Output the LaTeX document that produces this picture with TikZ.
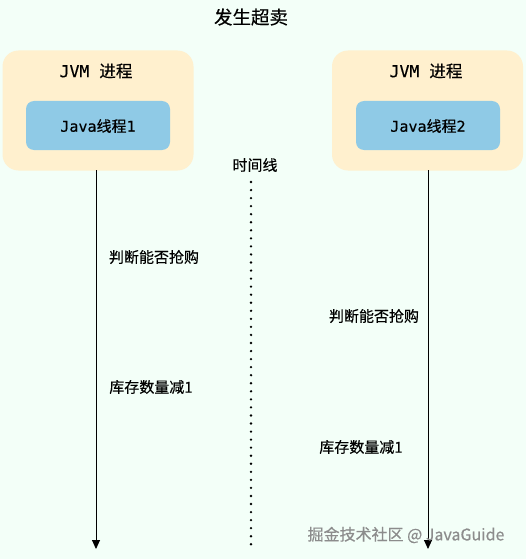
\documentclass[tikz,border=0pt]{standalone}
\usepackage{fontspec}
\setmainfont{Noto Sans CJK SC}[FakeBold=0.35]
\newfontfamily\monofont{DejaVu Sans Mono}[FakeBold=0.3]
\usetikzlibrary{arrows.meta}
\definecolor{bgc}{HTML}{F3FFF8}
\definecolor{procc}{HTML}{FFF0CE}
\definecolor{thrc}{HTML}{8FCAE6}
\begin{document}
\begin{tikzpicture}[x=1pt,y=-1pt,
  proc/.style={fill=procc,rounded corners=16pt,minimum width=191pt,minimum height=120pt,inner sep=0pt},
  thr/.style={fill=thrc,rounded corners=8pt,minimum width=144pt,minimum height=49pt,inner sep=0pt},
  lbl/.style={font=\fontsize{15}{18}\selectfont,inner sep=0pt,text=black},
  tline/.style={-{Triangle[length=9pt,width=8pt]},line width=0.9pt},
  dots/.style={line width=2.6pt,line cap=round,dash pattern=on 0pt off 8.05pt,black}]
\fill[bgc] (0,0) rectangle (526,559);
\useasboundingbox (0,0) rectangle (526,559);
\node[lbl,font=\fontsize{18.5}{22}\selectfont] (title) at (251,17) {发生超卖};
\node[proc] (p1) at (98,110.5) {};
\node[proc] (p2) at (427.5,110.5) {};
\node[thr] (t1) at (98,125.5) {};
\node[thr] (t2) at (428,125.5) {};
\node[lbl,font=\fontsize{16.5}{19}\selectfont] (pl1) at (96,71) {{\monofont JVM }进程};
\node[lbl,font=\fontsize{16.5}{19}\selectfont] (pl2) at (426,71) {{\monofont JVM }进程};
\node[lbl,font=\fontsize{15}{17}\selectfont] (tl1) at (98,126) {{\monofont Java}线程{\monofont 1}};
\node[lbl,font=\fontsize{15}{17}\selectfont] (tl2) at (428,126) {{\monofont Java}线程{\monofont 2}};
\node[lbl] (time) at (255,165) {时间线};
\coordinate (e1) at (96,549);
\coordinate (e2) at (428,549);
\coordinate (d0) at (251,182);
\coordinate (d1) at (251,550);
\draw[tline] (96,170) -- (e1);
\draw[tline] (428,170) -- (e2);
\draw[dots] (d0) -- (d1);
\node[lbl] (a1) at (154,257) {判断能否抢购};
\node[lbl] (a2) at (374,316) {判断能否抢购};
\node[lbl] (b1) at (151,387) {库存数量减1};
\node[lbl] (b2) at (361,447) {库存数量减1};
\node[lbl,text=black!45,font=\fontsize{16}{19}\selectfont] (wm) at (406,535) {掘金技术社区 @ JavaGuide};
\end{tikzpicture}
\end{document}
